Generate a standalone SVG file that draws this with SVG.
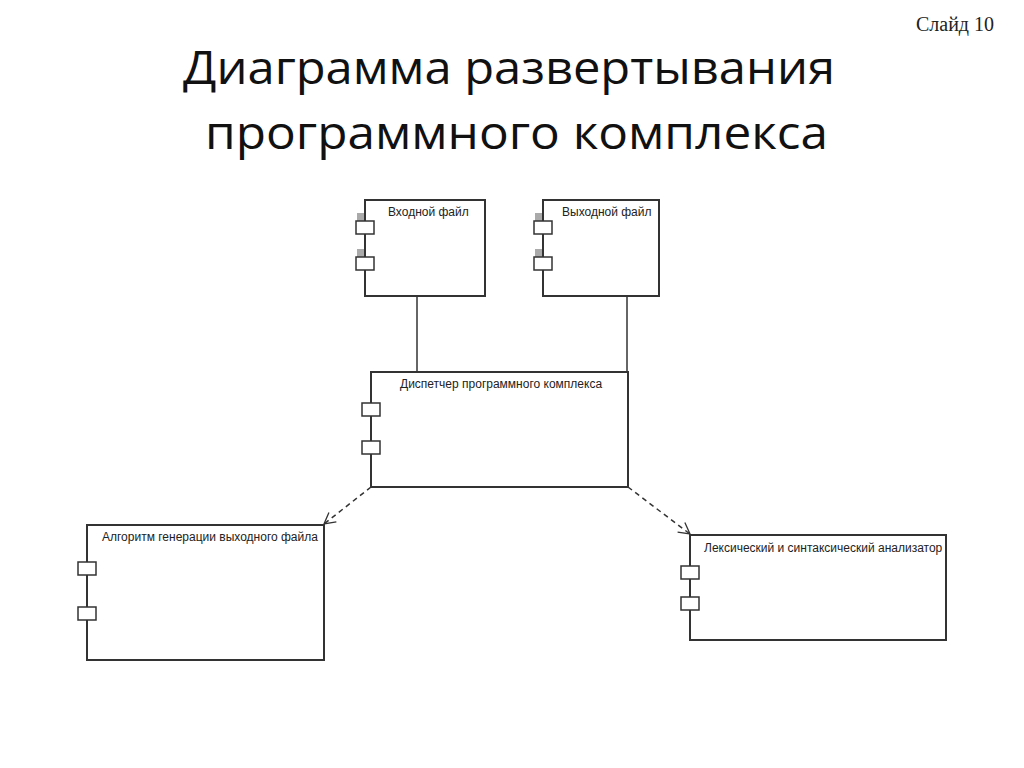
<svg xmlns="http://www.w3.org/2000/svg" width="1024" height="768" viewBox="0 0 1024 768">
<style>
.box{fill:#fff;stroke:#333;stroke-width:2}
.comp{fill:#fff;stroke:#333;stroke-width:1.5}
.grey{fill:#aaa}
.lbl{font-family:"Liberation Sans",Arial,sans-serif;font-size:12px;fill:#222}
.title{font-family:"Open Sans","Liberation Sans",sans-serif;font-size:46px;fill:#111}
.conn{stroke:#333;stroke-width:1.5;fill:none}
</style>
<defs>
<marker id="arr" markerWidth="14" markerHeight="14" refX="12" refY="7" orient="auto" markerUnits="userSpaceOnUse">
<path d="M1,1 L12,7 L1,13" fill="none" stroke="#333" stroke-width="1.3"/>
</marker>
</defs>
<rect width="1024" height="768" fill="#fff"/>
<text x="955" y="31" font-family="Liberation Serif,serif" font-size="20" fill="#222" text-anchor="middle">Слайд 10</text>
<text class="title" x="183" y="84" textLength="652" lengthAdjust="spacingAndGlyphs">Диаграмма развертывания</text>
<text class="title" x="205" y="149" textLength="623" lengthAdjust="spacingAndGlyphs">программного комплекса</text>
<g id="connectors">
<line class="conn" x1="417" y1="296" x2="417" y2="372"/>
<line class="conn" x1="627" y1="296" x2="627" y2="372"/>
<line class="conn" x1="371" y1="487" x2="324" y2="524" stroke-dasharray="5,4" marker-end="url(#arr)"/>
<line class="conn" x1="628" y1="487" x2="690" y2="534" stroke-dasharray="5,4" marker-end="url(#arr)"/>
</g>
<g id="input">
<rect class="box" x="365" y="200" width="120" height="96"/>
<rect class="grey" x="357" y="213" width="7" height="8"/><rect class="grey" x="357" y="249" width="7" height="8"/>
<rect class="comp" x="356" y="221" width="18" height="13"/><rect class="comp" x="356" y="257" width="18" height="13"/>
<text class="lbl" x="388" y="216">Входной файл</text>
</g>
<g id="output">
<rect class="box" x="543" y="200" width="116" height="96"/>
<rect class="grey" x="535" y="213" width="7" height="8"/><rect class="grey" x="535" y="249" width="7" height="8"/>
<rect class="comp" x="534" y="221" width="18" height="13"/><rect class="comp" x="534" y="257" width="18" height="13"/>
<text class="lbl" x="562" y="216">Выходной файл</text>
</g>
<g id="dispatcher">
<rect class="box" x="371" y="372" width="257" height="115"/>
<rect class="comp" x="362" y="403" width="18" height="13"/><rect class="comp" x="362" y="441" width="18" height="13"/>
<text class="lbl" x="400" y="388">Диспетчер программного комплекса</text>
</g>
<g id="algorithm">
<rect class="box" x="87" y="525" width="237" height="135"/>
<rect class="comp" x="78" y="562" width="18" height="13"/><rect class="comp" x="78" y="607" width="18" height="13"/>
<text class="lbl" x="102" y="541">Алгоритм генерации выходного файла</text>
</g>
<g id="lexer">
<rect class="box" x="690" y="535" width="256" height="105"/>
<rect class="comp" x="681" y="566" width="18" height="13"/><rect class="comp" x="681" y="597" width="18" height="13"/>
<text class="lbl" x="704" y="552">Лексический и синтаксический анализатор</text>
</g>
</svg>
